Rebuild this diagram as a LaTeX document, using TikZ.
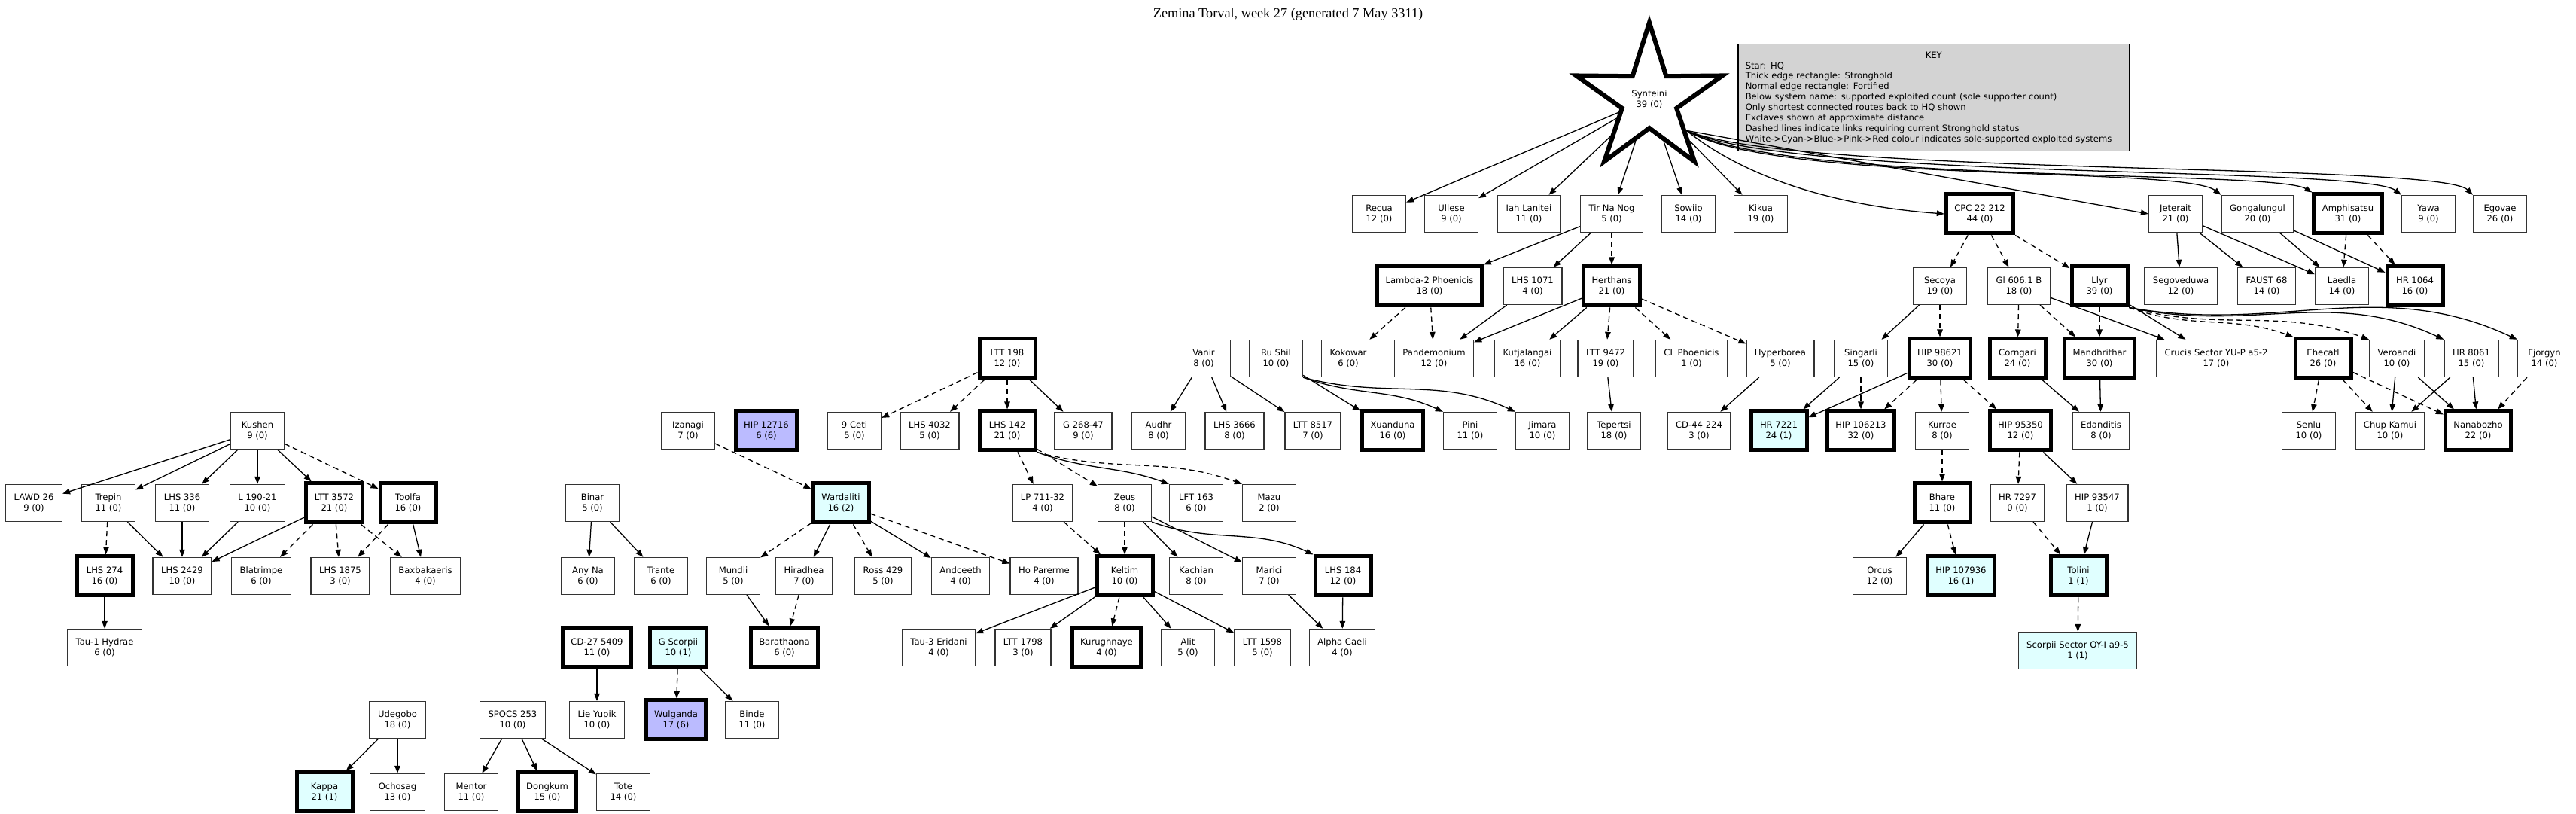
\documentclass[tikz,border=0pt]{standalone}
\usepackage{fontspec}
\setmainfont{DejaVu Sans}
\newfontfamily\titlefont{Liberation Serif}
\usetikzlibrary{shapes.geometric,arrows.meta}
\definecolor{solecyan}{RGB}{224,255,255}
\definecolor{soleblue}{RGB}{187,187,255}
\definecolor{keygray}{RGB}{211,211,211}

\begin{document}
\begin{tikzpicture}[
    sys/.style={rectangle, draw=black!80, line width=0.013cm, fill=white, align=center, minimum width=0.71cm, minimum height=0.49cm, inner xsep=0.11cm, inner ysep=0.04cm, font=\fontsize{3.3}{4}\selectfont},
    hold/.style={sys, draw=black, line width=0.05cm, minimum width=0.74cm, minimum height=0.52cm},
    cyanbox/.style={fill=solecyan},
    bluebox/.style={fill=soleblue},
    hqstar/.style={star, star points=5, star point ratio=2.68, minimum size=2.04cm, inner sep=0pt, draw, line width=0.06cm, fill=white, align=center, font=\fontsize{3.3}{4}\selectfont},
    arr/.style={-{Triangle[length=0.1cm,width=0.075cm]}, line width=0.013cm},
    darr/.style={arr, dash pattern=on 0.07cm off 0.05cm}
]
\useasboundingbox (0,0) rectangle (34.22,-10.81);

% Title and key
\node[font=\titlefont\fontsize{5.2}{6}\selectfont] (title) at (17.11,-0.19) {Zemina Torval, week 27 (generated 7 May 3311)};
\node[draw, line width=0.015cm, fill=keygray, align=left, text width=5.0cm, inner sep=0.1cm, anchor=north west, font=\fontsize{3.3}{3.95}\selectfont] (key) at (23.08,-0.58) {\makebox[5.0cm]{KEY}\\
Star: HQ\\
Thick edge rectangle: Stronghold\\
Normal edge rectangle: Fortified\\
Below system name: supported exploited count (sole supporter count)\\
Only shortest connected routes back to HQ shown\\
Exclaves shown at approximate distance\\
Dashed lines indicate links requiring current Stronghold status\\
White->Cyan->Blue->Pink->Red colour indicates sole-supported exploited systems};

% HQ
\node[hqstar] (hq) at (21.91,-1.32) {Synteini\\39 (0)};

% Row 1
\node[sys] (recua) at (18.32,-2.84) {Recua\\12 (0)};
\node[sys] (ullese) at (19.28,-2.84) {Ullese\\9 (0)};
\node[sys] (iah) at (20.31,-2.84) {Iah Lanitei\\11 (0)};
\node[sys] (tir) at (21.41,-2.84) {Tir Na Nog\\5 (0)};
\node[sys] (sowiio) at (22.43,-2.84) {Sowiio\\14 (0)};
\node[sys] (kikua) at (23.39,-2.84) {Kikua\\19 (0)};
\node[hold] (cpc) at (26.30,-2.84) {CPC 22 212\\44 (0)};
\node[sys] (jeterait) at (28.90,-2.84) {Jeterait\\21 (0)};
\node[sys] (gongal) at (29.99,-2.84) {Gongalungul\\20 (0)};
\node[hold] (amphi) at (31.19,-2.84) {Amphisatsu\\31 (0)};
\node[sys] (yawa) at (32.26,-2.84) {Yawa\\9 (0)};
\node[sys] (egovae) at (33.21,-2.84) {Egovae\\26 (0)};

% Row 2
\node[hold] (lambda) at (18.99,-3.80) {Lambda-2 Phoenicis\\18 (0)};
\node[sys] (lhs1071) at (20.36,-3.80) {LHS 1071\\4 (0)};
\node[hold] (herthans) at (21.41,-3.80) {Herthans\\21 (0)};
\node[sys] (secoya) at (25.77,-3.80) {Secoya\\19 (0)};
\node[sys] (gl606) at (26.82,-3.80) {Gl 606.1 B\\18 (0)};
\node[hold] (llyr) at (27.89,-3.80) {Llyr\\39 (0)};
\node[sys] (segov) at (28.97,-3.80) {Segoveduwa\\12 (0)};
\node[sys] (faust) at (30.11,-3.80) {FAUST 68\\14 (0)};
\node[sys] (laedla) at (31.11,-3.80) {Laedla\\14 (0)};
\node[hold] (hr1064) at (32.08,-3.80) {HR 1064\\16 (0)};

% Row 3
\node[hold] (ltt198) at (13.38,-4.76) {LTT 198\\12 (0)};
\node[sys] (vanir) at (15.99,-4.76) {Vanir\\8 (0)};
\node[sys] (rushil) at (16.95,-4.76) {Ru Shil\\10 (0)};
\node[sys] (kokowar) at (17.91,-4.76) {Kokowar\\6 (0)};
\node[sys] (pandem) at (19.05,-4.76) {Pandemonium\\12 (0)};
\node[sys] (kutjal) at (20.29,-4.76) {Kutjalangai\\16 (0)};
\node[sys] (ltt9472) at (21.33,-4.76) {LTT 9472\\19 (0)};
\node[sys] (clphoe) at (22.47,-4.76) {CL Phoenicis\\1 (0)};
\node[sys] (hyperb) at (23.65,-4.76) {Hyperborea\\5 (0)};
\node[sys] (singarli) at (24.72,-4.76) {Singarli\\15 (0)};
\node[hold] (hip98621) at (25.77,-4.76) {HIP 98621\\30 (0)};
\node[hold] (corngari) at (26.80,-4.76) {Corngari\\24 (0)};
\node[hold] (mandh) at (27.89,-4.76) {Mandhrithar\\30 (0)};
\node[sys] (crucis) at (29.44,-4.76) {Crucis Sector YU-P a5-2\\17 (0)};
\node[hold] (ehecatl) at (30.86,-4.76) {Ehecatl\\26 (0)};
\node[sys] (veroandi) at (31.84,-4.76) {Veroandi\\10 (0)};
\node[sys] (hr8061) at (32.83,-4.76) {HR 8061\\15 (0)};
\node[sys] (fjorgyn) at (33.80,-4.76) {Fjorgyn\\14 (0)};

% Row 4
\node[sys] (kushen) at (3.42,-5.72) {Kushen\\9 (0)};
\node[sys] (izanagi) at (9.14,-5.72) {Izanagi\\7 (0)};
\node[hold, bluebox] (hip12716) at (10.18,-5.72) {HIP 12716\\6 (6)};
\node[sys] (nceti) at (11.35,-5.72) {9 Ceti\\5 (0)};
\node[sys] (lhs4032) at (12.35,-5.72) {LHS 4032\\5 (0)};
\node[hold] (lhs142) at (13.38,-5.72) {LHS 142\\21 (0)};
\node[sys] (g268) at (14.39,-5.72) {G 268-47\\9 (0)};
\node[sys] (audhr) at (15.39,-5.72) {Audhr\\8 (0)};
\node[sys] (lhs3666) at (16.40,-5.72) {LHS 3666\\8 (0)};
\node[sys] (ltt8517) at (17.44,-5.72) {LTT 8517\\7 (0)};
\node[hold] (xuand) at (18.50,-5.72) {Xuanduna\\16 (0)};
\node[sys] (pini) at (19.53,-5.72) {Pini\\11 (0)};
\node[sys] (jimara) at (20.49,-5.72) {Jimara\\10 (0)};
\node[sys] (tepertsi) at (21.44,-5.72) {Tepertsi\\18 (0)};
\node[sys] (cd44) at (22.57,-5.72) {CD-44 224\\3 (0)};
\node[hold, cyanbox] (hr7221) at (23.63,-5.72) {HR 7221\\24 (1)};
\node[hold] (hip106213) at (24.72,-5.72) {HIP 106213\\32 (0)};
\node[sys] (kurrae) at (25.80,-5.72) {Kurrae\\8 (0)};
\node[hold] (hip95350) at (26.84,-5.72) {HIP 95350\\12 (0)};
\node[sys] (edand) at (27.91,-5.72) {Edanditis\\8 (0)};
\node[sys] (senlu) at (30.67,-5.72) {Senlu\\10 (0)};
\node[sys] (chup) at (31.75,-5.72) {Chup Kamui\\10 (0)};
\node[hold] (nanab) at (32.92,-5.72) {Nanabozho\\22 (0)};

% Row 5
\node[sys] (lawd) at (0.45,-6.68) {LAWD 26\\9 (0)};
\node[sys] (trepin) at (1.44,-6.68) {Trepin\\11 (0)};
\node[sys] (lhs336) at (2.42,-6.68) {LHS 336\\11 (0)};
\node[sys] (l190) at (3.42,-6.68) {L 190-21\\10 (0)};
\node[hold] (ltt3572) at (4.44,-6.68) {LTT 3572\\21 (0)};
\node[hold] (toolfa) at (5.42,-6.68) {Toolfa\\16 (0)};
\node[sys] (binar) at (7.87,-6.68) {Binar\\5 (0)};
\node[hold, cyanbox] (wardaliti) at (11.17,-6.68) {Wardaliti\\16 (2)};
\node[sys] (lp711) at (13.85,-6.68) {LP 711-32\\4 (0)};
\node[sys] (zeus) at (14.94,-6.68) {Zeus\\8 (0)};
\node[sys] (lft163) at (15.89,-6.68) {LFT 163\\6 (0)};
\node[sys] (mazu) at (16.86,-6.68) {Mazu\\2 (0)};
\node[hold] (bhare) at (25.80,-6.68) {Bhare\\11 (0)};
\node[sys] (hr7297) at (26.80,-6.68) {HR 7297\\0 (0)};
\node[sys] (hip93547) at (27.86,-6.68) {HIP 93547\\1 (0)};

% Row 6
\node[hold] (lhs274) at (1.39,-7.65) {LHS 274\\16 (0)};
\node[sys] (lhs2429) at (2.42,-7.65) {LHS 2429\\10 (0)};
\node[sys] (blatr) at (3.47,-7.65) {Blatrimpe\\6 (0)};
\node[sys] (lhs1875) at (4.52,-7.65) {LHS 1875\\3 (0)};
\node[sys] (baxb) at (5.65,-7.65) {Baxbakaeris\\4 (0)};
\node[sys] (anyna) at (7.81,-7.65) {Any Na\\6 (0)};
\node[sys] (trante) at (8.78,-7.65) {Trante\\6 (0)};
\node[sys] (mundii) at (9.74,-7.65) {Mundii\\5 (0)};
\node[sys] (hiradhea) at (10.68,-7.65) {Hiradhea\\7 (0)};
\node[sys] (ross) at (11.73,-7.65) {Ross 429\\5 (0)};
\node[sys] (andceeth) at (12.76,-7.65) {Andceeth\\4 (0)};
\node[sys] (hopar) at (13.87,-7.65) {Ho Parerme\\4 (0)};
\node[hold] (keltim) at (14.94,-7.65) {Keltim\\10 (0)};
\node[sys] (kachian) at (15.89,-7.65) {Kachian\\8 (0)};
\node[sys] (marici) at (16.86,-7.65) {Marici\\7 (0)};
\node[hold] (lhs184) at (17.84,-7.65) {LHS 184\\12 (0)};
\node[sys] (orcus) at (24.97,-7.65) {Orcus\\12 (0)};
\node[hold, cyanbox] (hip107936) at (26.05,-7.65) {HIP 107936\\16 (1)};
\node[hold, cyanbox] (tolini) at (27.61,-7.65) {Tolini\\1 (1)};

% Row 7
\node[sys] (tauone) at (1.39,-8.60) {Tau-1 Hydrae\\6 (0)};
\node[hold] (cd27) at (7.93,-8.60) {CD-27 5409\\11 (0)};
\node[hold, cyanbox] (gscorpii) at (9.01,-8.60) {G Scorpii\\10 (1)};
\node[hold] (barath) at (10.42,-8.60) {Barathaona\\6 (0)};
\node[sys] (tauthree) at (12.47,-8.60) {Tau-3 Eridani\\4 (0)};
\node[sys] (ltt1798) at (13.59,-8.60) {LTT 1798\\3 (0)};
\node[hold] (kurugh) at (14.70,-8.60) {Kurughnaye\\4 (0)};
\node[sys] (alit) at (15.78,-8.60) {Alit\\5 (0)};
\node[sys] (ltt1598) at (16.77,-8.60) {LTT 1598\\5 (0)};
\node[sys] (alpha) at (17.83,-8.60) {Alpha Caeli\\4 (0)};
\node[sys, cyanbox] (scorpii) at (27.60,-8.64) {Scorpii Sector OY-I a9-5\\1 (1)};

% Row 8 and 9
\node[sys] (udegobo) at (5.28,-9.56) {Udegobo\\18 (0)};
\node[sys] (spocs) at (6.81,-9.56) {SPOCS 253\\10 (0)};
\node[sys] (lieyupik) at (7.93,-9.56) {Lie Yupik\\10 (0)};
\node[hold, bluebox] (wulganda) at (8.98,-9.56) {Wulganda\\17 (6)};
\node[sys] (binde) at (9.99,-9.56) {Binde\\11 (0)};
\node[hold, cyanbox] (kappa) at (4.31,-10.52) {Kappa\\21 (1)};
\node[sys] (ochosag) at (5.28,-10.52) {Ochosag\\13 (0)};
\node[sys] (mentor) at (6.26,-10.52) {Mentor\\11 (0)};
\node[hold] (dongkum) at (7.27,-10.52) {Dongkum\\15 (0)};
\node[sys] (tote) at (8.28,-10.52) {Tote\\14 (0)};

% Links from HQ
\foreach \t in {recua,ullese,iah,tir,sowiio,kikua}
  \draw[arr] (hq) -- (\t);
\draw[arr] (hq.-40) .. controls (23.3,-2.45) and (24.6,-2.75) .. (cpc.west);
\draw[arr] (hq.-40) -- (jeterait.west);
\draw[arr] (hq.-40) .. controls (23.6,-2.45) and (29.0,-2.2) .. (gongal.north west);
\draw[arr] (hq.-40) .. controls (23.7,-2.45) and (30.2,-2.25) .. (amphi.north west);
\draw[arr] (hq.-40) .. controls (23.8,-2.4) and (31.4,-2.2) .. (yawa.north west);
\draw[arr] (hq.-40) .. controls (23.9,-2.35) and (32.4,-2.15) .. (egovae.north west);

% Links, upper part
\draw[arr] (tir) -- (lambda);
\draw[arr] (tir) -- (lhs1071);
\draw[darr] (tir) -- (herthans);
\draw[darr] (lambda) -- (kokowar);
\draw[darr] (lambda) -- (pandem);
\draw[arr] (lhs1071) -- (pandem);
\draw[arr] (herthans) -- (pandem);
\draw[arr] (herthans) -- (kutjal);
\draw[darr] (herthans) -- (ltt9472);
\draw[darr] (herthans) -- (clphoe);
\draw[darr] (herthans) -- (hyperb);
\draw[arr] (ltt9472) -- (tepertsi);
\draw[arr] (hyperb) -- (cd44);
\foreach \t in {secoya,gl606,llyr}
  \draw[darr] (cpc) -- (\t);
\foreach \t in {segov,faust,laedla}
  \draw[arr] (jeterait) -- (\t);
\draw[arr] (gongal) -- (laedla);
\draw[arr] (gongal) -- (hr1064);
\draw[darr] (amphi) -- (laedla);
\draw[darr] (amphi) -- (hr1064);
\draw[arr] (secoya) -- (singarli);
\draw[darr] (secoya) -- (hip98621);
\draw[darr] (gl606) -- (corngari);
\draw[darr] (gl606) -- (mandh);
\draw[arr] (gl606) -- (crucis);
\draw[darr] (llyr) -- (mandh);
\draw[arr] (llyr) -- (crucis);
\draw[darr] (llyr.south east) to[out=-20,in=160] (ehecatl.north west);
\draw[darr] (llyr.south east) to[out=-15,in=160] (veroandi.north west);
\draw[arr] (llyr.south east) to[out=-12,in=155] (hr8061.north west);
\draw[arr] (llyr.south east) to[out=-10,in=155] (fjorgyn.north west);
\draw[arr] (singarli) -- (hr7221);
\draw[darr] (singarli) -- (hip106213);
\draw[arr] (hip98621) -- (hr7221);
\draw[darr] (hip98621) -- (hip106213);
\draw[darr] (hip98621) -- (kurrae);
\draw[darr] (hip98621) -- (hip95350);
\draw[arr] (corngari) -- (edand);
\draw[arr] (mandh) -- (edand);
\foreach \t in {senlu,chup,nanab}
  \draw[darr] (ehecatl) -- (\t);
\draw[arr] (veroandi) -- (chup);
\draw[arr] (veroandi) -- (nanab);
\draw[arr] (hr8061) -- (chup);
\draw[arr] (hr8061) -- (nanab);
\draw[darr] (fjorgyn) -- (nanab);
\draw[darr] (kurrae) -- (bhare);
\draw[darr] (hip95350) -- (hr7297);
\draw[arr] (hip95350) -- (hip93547);
\draw[arr] (bhare) -- (orcus);
\draw[darr] (bhare) -- (hip107936);
\draw[darr] (hr7297) -- (tolini);
\draw[arr] (hip93547) -- (tolini);
\draw[darr] (tolini) -- (scorpii);

% Links, middle part
\foreach \t in {nceti,lhs4032,lhs142}
  \draw[darr] (ltt198) -- (\t);
\draw[arr] (ltt198) -- (g268);
\draw[darr] (lhs142) -- (lp711);
\draw[darr] (lhs142) -- (zeus);
\draw[arr] (lhs142.south east) to[out=-20,in=160] (lft163.north west);
\draw[darr] (lhs142.south east) to[out=-15,in=160] (mazu.north west);
\draw[darr] (lp711) -- (keltim);
\draw[darr] (zeus) -- (keltim);
\draw[arr] (zeus) -- (kachian);
\draw[arr] (zeus) -- (marici);
\draw[arr] (zeus.south east) to[out=-20,in=155] (lhs184.north west);
\foreach \t in {tauthree,ltt1798,alit,ltt1598}
  \draw[arr] (keltim) -- (\t);
\draw[darr] (keltim) -- (kurugh);
\draw[arr] (marici) -- (alpha);
\draw[arr] (lhs184) -- (alpha);
\foreach \t in {audhr,lhs3666,ltt8517}
  \draw[arr] (vanir) -- (\t);
\draw[arr] (rushil) -- (xuand);
\draw[arr] (rushil.south east) to[out=-20,in=155] (pini.north west);
\draw[arr] (rushil.south east) to[out=-15,in=155] (jimara.north west);

% Links, left part
\foreach \t in {lawd,trepin,lhs336,l190,ltt3572}
  \draw[arr] (kushen) -- (\t);
\draw[darr] (kushen) -- (toolfa);
\draw[darr] (trepin) -- (lhs274);
\draw[arr] (trepin) -- (lhs2429);
\draw[arr] (lhs336) -- (lhs2429);
\draw[arr] (l190) -- (lhs2429);
\draw[arr] (ltt3572) -- (lhs2429);
\foreach \t in {blatr,lhs1875,baxb}
  \draw[darr] (ltt3572) -- (\t);
\draw[darr] (toolfa) -- (lhs1875);
\draw[arr] (toolfa) -- (baxb);
\draw[arr] (lhs274) -- (tauone);
\draw[darr] (izanagi) -- (wardaliti);
\draw[darr] (wardaliti) -- (mundii);
\draw[arr] (wardaliti) -- (hiradhea);
\draw[darr] (wardaliti) -- (ross);
\draw[arr] (wardaliti) -- (andceeth);
\draw[darr] (wardaliti) -- (hopar);
\draw[arr] (mundii) -- (barath);
\draw[darr] (hiradhea) -- (barath);
\draw[arr] (binar) -- (anyna);
\draw[arr] (binar) -- (trante);
\draw[arr] (cd27) -- (lieyupik);
\draw[darr] (gscorpii) -- (wulganda);
\draw[arr] (gscorpii) -- (binde);
\draw[arr] (udegobo) -- (kappa);
\draw[arr] (udegobo) -- (ochosag);
\foreach \t in {mentor,dongkum,tote}
  \draw[arr] (spocs) -- (\t);

\end{tikzpicture}
\end{document}
